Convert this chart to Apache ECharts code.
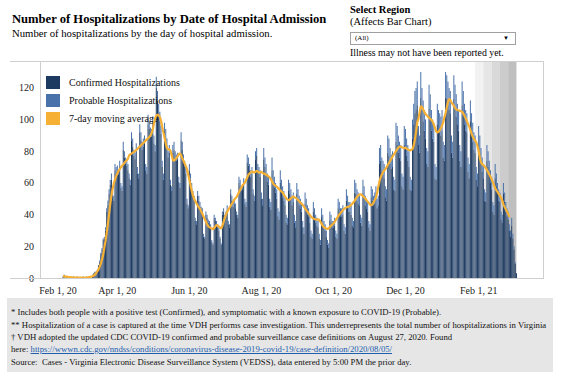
<!DOCTYPE html>
<html>
<head>
<meta charset="utf-8">
<script src="https://cdn.jsdelivr.net/npm/echarts@6/dist/echarts.min.js"></script>
<style>
  html, body { margin: 0; padding: 0; background: #fff; }
  #wrap { position: relative; width: 566px; height: 382px; overflow: hidden; font-family: 'Liberation Serif', 'Times New Roman', serif; color: #000; }
  #chart { position: absolute; left: 0; top: 0; width: 566px; height: 382px; }
  .t { position: absolute; white-space: nowrap; line-height: 1; }
  #title { left: 12px; top: 13px; font-size: 12.6px; font-weight: bold; }
  #sub { left: 12px; top: 28px; font-size: 10.7px; }
  #selT { left: 350px; top: 5px; font-size: 10.5px; font-weight: bold; }
  #selS { left: 350px; top: 17px; font-size: 10.5px; }
  #dd { position: absolute; left: 350px; top: 32px; width: 164px; height: 11px; border: 1px solid #a0a0a0; background: #fff; }
  #dd .v { position: absolute; left: 4px; top: 2px; font-size: 7px; line-height: 1; }
  #dd .a { position: absolute; right: 6px; top: 2px; font-size: 6px; line-height: 1; }
  #ill { left: 350px; top: 48px; font-size: 9.8px; }
  #foot { position: absolute; left: 7px; top: 298px; width: 546px; height: 74px; background: #e6e6e6; }
  #foot .l { position: absolute; left: 4px; white-space: nowrap; font-size: 8.7px; line-height: 1; color: #111; }
  #foot a { color: #1f5fae; text-decoration: underline; }
</style>
</head>
<body>
<div id="wrap">
  <div id="chart"></div>
  <div class="t" id="title">Number of Hospitalizations by Date of Hospital Admission</div>
  <div class="t" id="sub">Number of hospitalizations by the day of hospital admission.</div>
  <div class="t" id="selT">Select Region</div>
  <div class="t" id="selS">(Affects Bar Chart)</div>
  <div id="dd"><span class="v">(All)</span><span class="a">&#9660;</span></div>
  <div class="t" id="ill">Illness may not have been reported yet.</div>
  <div id="foot">
    <div class="l" style="top:10px">* Includes both people with a positive test (Confirmed), and symptomatic with a known exposure to COVID-19 (Probable).</div>
    <div class="l" style="top:22.5px">** Hospitalization of a case is captured at the time VDH performs case investigation. This underrepresents the total number of hospitalizations in Virginia</div>
    <div class="l" style="top:35px">&#8224; VDH adopted the updated CDC COVID-19 confirmed and probable surveillance case definitions on August 27, 2020. Found</div>
    <div class="l" style="top:47px">here: <a>https://wwwn.cdc.gov/nndss/conditions/coronavirus-disease-2019-covid-19/case-definition/2020/08/05/</a></div>
    <div class="l" style="top:59.5px">Source:&nbsp; Cases - Virginia Electronic Disease Surveillance System (VEDSS), data entered by 5:00 PM the prior day.</div>
  </div>
</div>
<script>
// ---- data (daily, first value = 2020-02-15) ----
const firstDay = '2020-02-15';
const axisFirstDay = '2020-01-27';
const axisLastDay = '2021-03-27';

const confirmed = [
  1,2,0,1,1,1,1,  0,0,1,0,0,1,0,  0,0,0,1,0,0,1,  0,1,1,0,2,3,4,
  4,5,8,10,15,18,24,  25,30,42,46,53,59,62,  52,49,68,66,67,65,70,
  57,55,81,76,72,71,68,  63,59,87,83,77,75,80,  66,63,92,87,81,83,85,
  68,66,97,94,90,89,96,  85,80,120,112,104,99,91,  70,62,93,89,83,76,79,
  59,55,79,81,76,74,75,  61,57,87,81,74,70,66,  47,44,68,62,57,52,49,
  36,34,52,49,45,43,42,  26,25,40,38,35,34,32,  23,21,38,36,34,32,30,
  25,21,40,42,38,40,43,  34,32,53,49,45,47,44,  40,38,60,58,55,56,59,
  47,45,73,71,68,64,66,  53,49,75,77,68,66,64,  50,46,75,70,66,61,59,
  45,43,68,61,57,54,50,  39,37,60,55,51,49,46,  35,34,55,53,50,46,48,
  35,32,53,49,46,44,42,  32,28,47,44,40,39,35,  26,25,42,39,35,33,32,
  25,21,39,35,32,30,26,  21,19,37,35,32,32,33,  26,25,44,42,39,39,40,
  30,28,49,46,42,42,40,  33,32,54,53,49,47,46,  35,33,54,51,46,44,42,
  32,30,51,49,46,47,51,  44,46,72,74,67,65,63,  51,49,79,77,72,69,70,
  56,55,86,84,79,76,74,  58,56,84,83,77,74,70,  56,55,88,97,104,106,109,
  84,79,114,106,99,93,88,  72,70,107,102,93,88,86,  63,62,97,93,92,90,93,
  76,74,114,113,109,106,104,  79,76,113,107,102,97,93,  74,70,109,104,97,93,92,
  67,63,99,92,86,81,79,  62,58,84,79,72,67,63,  49,48,74,70,65,60,56,
  42,40,63,58,53,49,48,  37,35,53,48,42,39,37,  30,26,33,25,18,9,3
];

const probable = [
  0,0,0,0,0,0,0,  0,0,0,0,0,0,0,  0,0,0,0,0,0,0,  0,0,0,0,0,0,0,
  0,0,0,1,1,1,1,  1,2,2,3,3,3,4,  3,3,4,4,4,3,4,
  3,3,5,4,4,4,4,  3,3,5,5,4,4,5,  4,3,5,5,5,5,5,
  4,4,6,5,5,5,6,  5,4,7,6,6,6,5,  4,4,5,5,5,4,5,
  3,3,5,5,4,4,4,  3,3,5,5,4,4,4,  3,2,4,4,3,3,3,
  2,2,3,3,3,2,2,  2,1,2,2,2,2,2,  1,1,2,2,2,2,2,
  1,1,2,2,2,2,3,  2,2,3,3,3,3,3,  2,2,4,4,3,3,4,
  3,3,5,5,4,4,4,  3,3,5,5,4,4,4,  4,4,7,6,6,5,5,
  5,5,8,7,7,6,6,  5,5,8,7,7,6,6,  5,4,7,7,6,6,6,
  5,4,7,7,6,6,6,  4,4,7,6,6,5,5,  4,3,6,5,5,5,4,
  3,3,5,5,4,4,4,  3,3,5,5,4,4,5,  4,3,6,6,5,5,6,
  4,4,7,6,6,6,6,  5,4,8,7,7,7,6,  5,5,8,7,6,6,6,
  4,4,7,7,6,7,7,  6,6,10,10,9,9,9,  7,7,11,11,10,9,10,
  8,7,12,12,11,10,10,  8,8,12,11,11,10,10,  8,7,12,13,14,14,15,
  12,11,16,14,13,13,12,  10,10,15,14,13,12,12,  9,8,13,13,12,12,13,
  10,10,16,15,15,14,14,  11,10,15,15,14,13,13,  10,10,15,14,13,13,12,
  9,9,13,12,12,11,11,  8,8,12,11,10,9,9,  7,6,10,10,9,8,8,
  6,6,9,8,7,7,6,  5,5,7,6,6,5,5,  4,4,5,3,2,1,0
];

const movingAvg = [
  1.0,1.0,0.9,0.9,0.7,0.6,0.6,  0.4,0.4,0.3,0.3,0.3,0.3,0.3,  0.3,0.3,0.3,0.1,0.1,0.3,0.3,
  0.4,0.6,0.7,0.9,1.1,1.6,2.1,  3.0,4.1,5.3,7.0,9.1,11.6,14.7,  19.0,23.4,28.6,34.1,40.3,46.6,52.1,
  56.4,59.7,62.1,64.3,66.0,67.6,68.7,  69.9,71.0,71.6,72.7,73.6,74.4,75.3,  77.5,78.0,78.5,79.0,79.6,80.2,80.8,
  81.5,82.3,83.0,83.8,84.5,85.3,86.0,  86.8,87.5,88.2,89.0,89.8,91.5,93.8,  97.6,100.9,102.5,103.1,102.6,101.8,99.4,
  95.7,92.1,88.5,84.9,82.0,81.4,81.2,  80.3,77.6,74.5,74.0,74.9,75.6,76.8,  78.1,78.7,77.6,75.7,74.1,72.3,70.6,
  68.7,65.4,62.1,58.6,55.0,52.3,50.1,  48.6,47.2,45.8,44.5,43.7,42.1,40.6,  38.8,37.1,35.6,33.9,32.7,32.1,31.6,
  31.2,30.8,31.5,32.6,33.5,33.0,32.4,  31.8,31.2,33.0,35.4,38.1,40.0,41.6,  43.1,44.4,45.6,46.9,48.1,49.3,50.4,
  51.2,52.7,54.1,55.6,57.0,58.6,59.3,  60.1,61.8,63.4,65.1,66.0,66.8,67.3,  67.0,66.6,67.1,67.6,67.2,66.5,66.8,
  67.1,66.4,65.9,65.7,65.1,64.8,64.2,  63.6,62.4,61.0,59.6,58.7,58.3,57.6,  56.9,56.1,55.3,54.6,53.9,52.6,51.4,
  50.4,49.6,49.1,49.5,50.3,51.0,51.4,  51.0,50.6,50.1,49.3,48.4,47.6,47.0,  46.1,45.2,44.0,42.8,41.9,40.8,39.8,
  38.7,38.0,37.6,37.2,37.0,36.9,37.0,  36.7,35.5,34.2,32.9,32.0,31.6,31.2,  30.9,31.4,32.2,33.1,33.6,34.4,35.5,
  36.6,37.8,38.9,40.0,41.0,41.9,42.8,  43.6,44.2,44.6,44.9,45.1,45.3,46.2,  46.9,47.8,48.9,50.1,51.2,52.1,52.6,
  52.9,52.4,51.6,51.0,50.2,49.1,48.2,  47.3,46.4,45.9,46.4,47.8,49.2,50.6,  53.6,57.4,61.1,63.6,65.3,66.8,67.9,
  68.7,70.0,71.4,72.6,73.9,75.2,76.6,  77.7,78.9,80.1,81.2,82.3,83.0,82.9,  82.6,82.2,81.9,82.3,81.6,81.1,80.8,
  80.5,81.0,81.3,83.7,87.5,92.1,98.4,  100.5,104.6,108.6,107.9,106.4,104.9,103.6,  102.8,101.9,101.2,100.5,99.8,98.7,97.0,
  94.9,92.6,91.8,92.4,93.3,94.6,96.1,  98.4,101.4,104.2,107.6,111.2,113.1,112.4,  110.9,109.8,108.7,107.4,106.5,106.1,105.8,
  105.6,105.3,104.9,103.8,102.5,100.9,99.1,  97.3,95.6,93.5,91.0,89.2,87.9,86.8,  85.5,83.6,80.2,75.8,73.0,71.9,71.2,
  70.5,69.6,68.2,66.9,65.4,64.0,62.4,  60.5,58.6,56.8,55.4,54.3,53.1,51.9,  50.6,49.0,46.5,44.8,43.4,42.0,40.5,
  38.6
];

const tickDates = ['2020-02-01','2020-04-01','2020-06-01','2020-08-01','2020-10-01','2020-12-01','2021-02-01'];
const tickLabels = ['Feb 1, 20','Apr 1, 20','Jun 1, 20','Aug 1, 20','Oct 1, 20','Dec 1, 20','Feb 1, 21'];
const yMax = 137;
const yStep = 20;

// "Illness may not have been reported yet" weekly shading (start, end, colour)
const shadeStarts = ['2021-01-29','2021-02-05','2021-02-12','2021-02-19','2021-02-26'];
const shadeEnds   = ['2021-02-05','2021-02-12','2021-02-19','2021-02-26','2021-03-05'];
const shadeColors = ['#f2f2f2','#e6e6e6','#d9d9d9','#cccccc','#bfbfbf'];

const seriesNames = ['Confirmed Hospitalizations','Probable Hospitalizations','7-day moving average'];
const seriesColors = ['#1d3a61','#4a72aa','#f6b135'];

// ---- build ----
function iso(t){ return new Date(t).toISOString().slice(0,10); }
function parse(s){ const p = s.split('-').map(Number); return Date.UTC(p[0], p[1]-1, p[2]); }
const categories = [];
for (let t = parse(axisFirstDay); t <= parse(axisLastDay); t += 86400000) categories.push(iso(t));
const offset = categories.indexOf(firstDay);
function pad(arr){ return categories.map((c,i)=>{ const k=i-offset; return (k>=0 && k<arr.length) ? arr[k] : null; }); }

const chart = echarts.init(document.getElementById('chart'), null, {renderer:'svg'});
const FONT = "'Liberation Serif', 'Times New Roman', serif";

chart.setOption({
  animation: false,
  grid: { left: 40, right: 23, top: 61, bottom: 104, containLabel: false },
  legend: {
    orient: 'vertical', left: 41, top: 71, itemWidth: 14, itemHeight: 13, itemGap: 5,
    textStyle: { fontFamily: FONT, fontSize: 10, color: '#111', padding: [0,0,0,4] },
    data: seriesNames.map(n => ({ name: n, icon: 'rect' })),
    selectedMode: false
  },
  xAxis: {
    type: 'category', data: categories, boundaryGap: true,
    axisLine: { show: false }, axisTick: { show: false }, splitLine: { show: false },
    axisLabel: {
      interval: (i, v) => tickDates.indexOf(v) >= 0,
      formatter: (v) => { const k = tickDates.indexOf(v); if (k < 0) return ''; return k === 0 ? '{first|' + tickLabels[k] + '}' : tickLabels[k]; },
      fontFamily: FONT, fontSize: 10, color: '#222', margin: 7,
      rich: { first: { fontFamily: FONT, fontSize: 10, color: '#222', padding: [0,0,0,23] } }
    }
  },
  yAxis: {
    type: 'value', min: 0, max: yMax, interval: yStep,
    axisLine: { show: false }, axisTick: { show: false }, splitLine: { show: false },
    axisLabel: { formatter: v => (v % yStep === 0 ? String(v) : ''), fontFamily: FONT, fontSize: 10, color: '#222', margin: 6 }
  },
  series: [
    {
      name: 'shade', type: 'line', data: [], silent: true, z: 0,
      markArea: { silent: true, data: shadeStarts.map((s,i)=>[{ xAxis: s, itemStyle: { color: shadeColors[i] } }, { xAxis: shadeEnds[i] }]) }
    },
    { name: seriesNames[0], type: 'bar', stack: 'h', data: pad(confirmed), itemStyle: { color: seriesColors[0] }, barCategoryGap: '32%', z: 2 },
    { name: seriesNames[1], type: 'bar', stack: 'h', data: pad(probable), itemStyle: { color: seriesColors[1] }, barCategoryGap: '32%', z: 2 },
    { name: seriesNames[2], type: 'line', data: pad(movingAvg), symbol: 'none', connectNulls: false,
      lineStyle: { color: seriesColors[2], width: 2.2 }, itemStyle: { color: seriesColors[2] }, z: 5 }
  ],
  graphic: [
    { type: 'line', shape: { x1: 10, y1: 61.5, x2: 543.5, y2: 61.5 }, style: { stroke: '#cfcfcf', lineWidth: 1 }, z: 10 },
    { type: 'line', shape: { x1: 10, y1: 278.5, x2: 543.5, y2: 278.5 }, style: { stroke: '#cfcfcf', lineWidth: 1 }, z: 10 },
    { type: 'line', shape: { x1: 40.5, y1: 61, x2: 40.5, y2: 279 }, style: { stroke: '#cfcfcf', lineWidth: 1 }, z: 10 },
    { type: 'line', shape: { x1: 543.5, y1: 61, x2: 543.5, y2: 279 }, style: { stroke: '#cfcfcf', lineWidth: 1 }, z: 10 }
  ]
});
</script>
</body>
</html>
